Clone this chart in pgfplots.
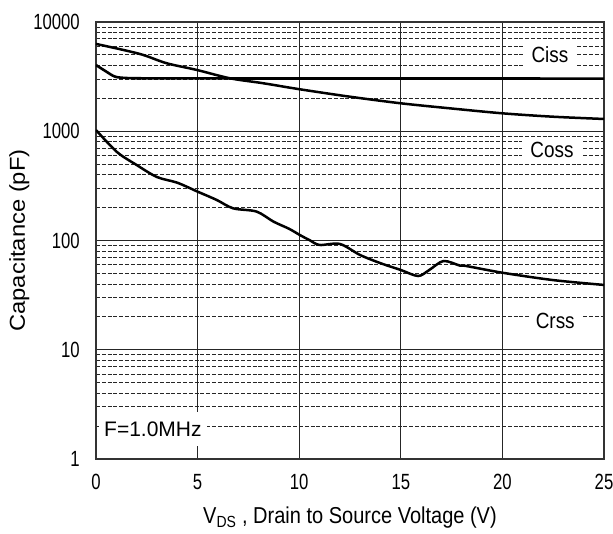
\documentclass[border=0pt]{standalone}
\usepackage{pgfplots}
\pgfplotsset{compat=1.18}
\usepackage{fontspec}
\setmainfont{Liberation Sans}
\newfontfamily\tickfont{Liberation Sans}[FakeStretch=0.76]
\newfontfamily\xlabfont{Liberation Sans}[FakeStretch=0.87]
\newfontfamily\ylabfont{Liberation Sans}[FakeStretch=1.1]
\newfontfamily\curvefont{Liberation Sans}[FakeStretch=0.86]
\begin{document}
\begin{tikzpicture}
\path[use as bounding box] (-96pt,-75pt) rectangle (517pt,459pt);
\begin{axis}[
  at={(0pt,0pt)}, anchor=south west,
  scale only axis, width=508pt, height=437pt,
  xmin=0, xmax=25, ymin=1, ymax=10000, ymode=log,
  xtick={0,5,10,15,20,25}, xticklabels={0,5,10,15,20,25},
  ytick={1,10,100,1000,10000}, yticklabels={1,10,100,1000,10000},
  major tick length=0pt, minor tick length=0pt,
  xmajorgrids, ymajorgrids, yminorgrids,
  major grid style={black!85, line width=0.9pt, solid},
  minor grid style={black!85, line width=0.9pt, dash pattern=on 4pt off 1.8pt},
  axis line style={black!80, line width=1.6pt},
  xticklabel style={font=\tickfont\fontsize{22}{24}\selectfont, anchor=north, inner sep=0pt, yshift=-15pt},
  yticklabel style={font=\tickfont\fontsize{22}{24}\selectfont, anchor=east, inner sep=0pt, xshift=-16pt},
  xlabel={V\textsubscript{DS} , Drain to Source Voltage (V)},
  xlabel style={font=\xlabfont\fontsize{23}{25}\selectfont, at={(axis description cs:0.5,-0.1487)}, anchor=base, inner sep=0pt},
  ylabel={Capacitance (pF)},
  ylabel style={font=\ylabfont\fontsize{21.6}{24}\selectfont, at={(axis description cs:-0.1398,0.5)}, rotate=0, anchor=base, inner sep=0pt},
]
% upper decreasing curve
\addplot[black, line width=2.5pt, smooth] coordinates {
(0,6300) (1.34,5550) (2.33,4990) (3.48,4190) (4.96,3640) (6.6,3050) (8.23,2750)
(10.04,2420) (12.5,2070) (15,1802) (17.4,1622) (20,1459) (22.5,1358) (25,1295)};
% flat curve
\addplot[black, line width=2.6pt, smooth] coordinates {
(0,4036) (0.5,3520) (0.94,3160) (1.5,3070) (2.5,3050) (5,3045) (10,3040) (25,3035)};
% lower curve
\addplot[black, line width=2.5pt, smooth] coordinates {
(0,1026) (1.03,646) (2,491) (3,381) (4,338) (5,280) (5.94,235) (6.75,197)
(7.9,184) (8.73,149) (9.5,128) (10.04,112) (10.5,101) (11,91) (12,93) (13,73.6)
(14,62) (15,53.7) (15.85,47.3) (16.4,53.7) (17.1,64.9) (17.9,59) (18.2,58.5)
(20,50.7) (22.5,43.4) (25,39.2)};
\node[fill=white, inner xsep=9pt, inner ysep=3pt, font=\curvefont\fontsize{22}{24}\selectfont] at (axis cs:22.34,4990) {Ciss};
\node[fill=white, inner xsep=8pt, inner ysep=5pt, font=\curvefont\fontsize{22}{24}\selectfont] at (axis cs:22.44,673) {Coss};
\node[fill=white, inner xsep=6pt, inner ysep=5pt, font=\curvefont\fontsize{22}{24}\selectfont] at (axis cs:22.6,18.3) {Crss};
\node[fill=white, inner xsep=5pt, inner ysep=10pt, font=\fontsize{21}{23}\selectfont] at (axis cs:2.8,1.88) {F=1.0MHz};
\end{axis}
\end{tikzpicture}
\end{document}
